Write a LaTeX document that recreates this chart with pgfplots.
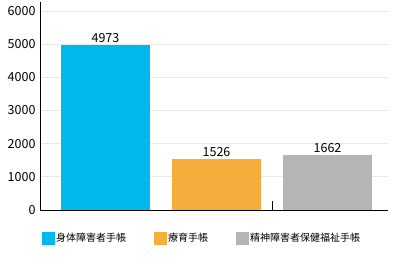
\documentclass[border=0pt]{standalone}
\usepackage{pgfplots}
\pgfplotsset{compat=1.18}
\usepackage{fontspec}
\setmainfont{Noto Sans CJK JP}
\definecolor{cA}{RGB}{0,184,238}
\definecolor{cB}{RGB}{245,174,60}
\definecolor{cC}{RGB}{180,181,180}
\definecolor{gridc}{RGB}{232,232,232}
\begin{document}
\begin{tikzpicture}
\useasboundingbox (-40pt,-58pt) rectangle (363pt,210pt);
\begin{axis}[
  at={(0pt,0pt)}, anchor=south west,
  scale only axis, width=348pt, height=208pt,
  xmin=0.41, xmax=3.545, ymin=0, ymax=6271,
  axis x line*=bottom, axis y line*=left,
  axis line style={black, line width=0.9pt},
  ytick={0,1000,...,6000},
  ymajorgrids, grid style={gridc, line width=0.8pt},
  xtick=\empty,
  ytick style={draw=none},
  yticklabel style={font=\fontsize{12.5}{13}\selectfont, xshift=-1pt},
  /pgf/number format/assume math mode=true,
  /pgf/number format/1000 sep={},
  ybar, bar width=89pt, bar shift=0pt,
  nodes near coords,
  every node near coord/.append style={font=\fontsize{12.5}{13}\selectfont, black, inner sep=2.5pt},
  legend columns=3,
  legend style={at={(0.004,-0.137)}, anchor=west, draw=none, fill=none,
    font=\fontsize{10}{12}\selectfont, inner sep=0pt,
    /tikz/every even column/.append style={column sep=26pt},
    nodes={inner sep=1.5pt}},
  legend cell align=left,
  legend image code/.code={\fill[#1,draw=none] (0pt,-6.5pt) rectangle (13pt,6.5pt);},
]
\addplot[fill=cA, draw=none] coordinates {(1,4973)};
\addlegendentry{身体障害者手帳}
\addplot[fill=cB, draw=none] coordinates {(2,1526)};
\addlegendentry{療育手帳}
\addplot[fill=cC, draw=none] coordinates {(3,1662)};
\addlegendentry{精神障害者保健福祉手帳}
\draw[black, line width=0.9pt] (axis cs:2.5,0) -- ++(0pt,9pt);
\end{axis}
\end{tikzpicture}
\end{document}
